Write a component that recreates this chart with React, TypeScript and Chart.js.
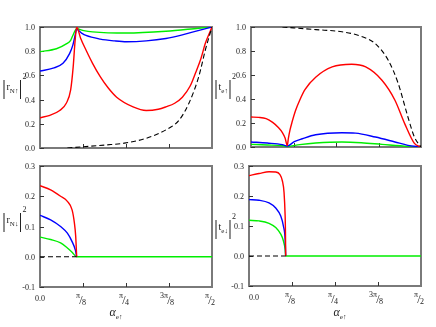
import React, { useEffect, useRef } from "react";
import { Chart, registerables } from "chart.js";
Chart.register(...registerables);

const W = 436;
const H = 327;
const HALF_PI = Math.PI / 2;

// ---- tick labels ----
const Y_TICKS_TOP = [0, 0.2, 0.4, 0.6, 0.8, 1.0];
const Y_LABELS_TOP = ["0.0", "0.2", "0.4", "0.6", "0.8", "1.0"];
const Y_TICKS_BOT = [-0.1, 0, 0.1, 0.2, 0.3];
const Y_LABELS_BOT = ["-0.1", "0.0", "0.1", "0.2", "0.3"];
const X_TICKS = [Math.PI / 8, Math.PI / 4, (3 * Math.PI) / 8, HALF_PI];
const X_NUM = ["π", "π", "3π", "π"];
const X_DEN = ["8", "4", "8", "2"];

// ---- top-left |r_N↑|^2 ----
const TL_RED_A = [0, 0.09, 0.18, 0.24, 0.28, 0.303, 0.32, 0.335, 0.37, 0.42, 0.48, 0.55, 0.62, 0.7, 0.85, 0.97, 1.08, 1.15, 1.23, 1.3, 1.37, 1.42, 1.47, 1.51, HALF_PI];
const TL_RED = [0.25, 0.27, 0.31, 0.37, 0.48, 0.67, 0.88, 1.0, 0.91, 0.81, 0.7, 0.59, 0.5, 0.42, 0.34, 0.31, 0.32, 0.34, 0.37, 0.42, 0.51, 0.62, 0.74, 0.865, 1.0];
const TL_BLUE_A = [0, 0.12, 0.21, 0.27, 0.3, 0.318, 0.335, 0.38, 0.42, 0.55, 0.68, 0.79, 0.97, 1.15, 1.3, 1.4, HALF_PI];
const TL_BLUE = [0.636, 0.66, 0.7, 0.78, 0.85, 0.92, 0.98, 0.95, 0.93, 0.9, 0.885, 0.878, 0.885, 0.905, 0.935, 0.96, 1.0];
const TL_GREEN_A = [0, 0.15, 0.24, 0.28, 0.3, 0.335, 0.4, 0.48, 0.79, 1.15, 1.45, HALF_PI];
const TL_GREEN = [0.796, 0.82, 0.86, 0.89, 0.93, 0.985, 0.97, 0.96, 0.95, 0.965, 0.99, 1.0];
const TL_BLACK_A = [0.25, 0.39, 0.6, 0.77, 0.97, 1.15, 1.27, 1.36, 1.45, 1.51, HALF_PI];
const TL_BLACK = [0.0, 0.01, 0.025, 0.04, 0.08, 0.15, 0.23, 0.37, 0.59, 0.81, 1.0];

// ---- top-right |t_e↑|^2 ----
const TR_RED_A = [0, 0.07, 0.14, 0.2, 0.25, 0.29, 0.315, 0.335, 0.345, 0.36, 0.38, 0.41, 0.45, 0.5, 0.6, 0.75, 0.93, 1.06, 1.21, 1.33, 1.42, 1.51, HALF_PI];
const TR_RED = [0.25, 0.247, 0.236, 0.205, 0.165, 0.12, 0.075, 0.012, 0.07, 0.14, 0.21, 0.3, 0.39, 0.48, 0.583, 0.667, 0.689, 0.667, 0.556, 0.39, 0.195, 0.03, 0];
const TR_BLUE_A = [0, 0.15, 0.29, 0.335, 0.4, 0.474, 0.597, 0.84, 0.965, 1.15, 1.33, 1.45, HALF_PI];
const TR_BLUE = [0.042, 0.033, 0.02, 0.008, 0.045, 0.069, 0.102, 0.119, 0.116, 0.083, 0.042, 0.014, 0];
const TR_GREEN_A = [0, 0.15, 0.29, 0.335, 0.45, 0.597, 0.84, 1.02, 1.21, 1.45, HALF_PI];
const TR_GREEN = [0.022, 0.017, 0.011, 0.005, 0.02, 0.033, 0.042, 0.036, 0.022, 0.005, 0];
const TR_BLACK_A = [0.29, 0.6, 0.84, 1.02, 1.15, 1.27, 1.36, 1.45, 1.51, HALF_PI];
const TR_BLACK = [1.0, 0.978, 0.96, 0.922, 0.86, 0.72, 0.53, 0.25, 0.083, 0];

// ---- bottom-left |r_N↓|^2 ----
const BL_RED_A = [0, 0.097, 0.188, 0.25, 0.293, 0.314, 0.326, 0.335];
const BL_RED = [0.235, 0.221, 0.2, 0.183, 0.155, 0.112, 0.068, 0];
const BL_BLUE_A = [0, 0.097, 0.188, 0.25, 0.293, 0.323, 0.335];
const BL_BLUE = [0.137, 0.122, 0.1, 0.078, 0.05, 0.022, 0];
const BL_GREEN_A = [0, 0.097, 0.188, 0.25, 0.293, 0.335, HALF_PI];
const BL_GREEN = [0.065, 0.057, 0.046, 0.029, 0.015, 0, 0];
const BL_BLACK_A = [0, 0.335];
const BL_BLACK = [0, 0];

// ---- bottom-right |t_e↓|^2 ----
const BR_RED_A = [0, 0.092, 0.183, 0.244, 0.281, 0.305, 0.32, 0.33, 0.333, 0.335];
const BR_RED = [0.268, 0.275, 0.281, 0.28, 0.272, 0.25, 0.212, 0.134, 0.08, 0];
const BR_BLUE_A = [0, 0.092, 0.183, 0.244, 0.29, 0.314, 0.33, 0.335];
const BR_BLUE = [0.188, 0.186, 0.177, 0.16, 0.133, 0.1, 0.055, 0];
const BR_GREEN_A = [0, 0.092, 0.183, 0.244, 0.29, 0.314, 0.33, 0.335, HALF_PI];
const BR_GREEN = [0.119, 0.117, 0.109, 0.095, 0.073, 0.051, 0.022, 0, 0];
const BR_BLACK_A = [0, 0.335];
const BR_BLACK = [0, 0];

const RED = "#ff0000";
const BLUE = "#0000ff";
const GREEN = "#00ee00";
const BLACK = "#000000";
const SERIF = "'Liberation Serif', 'DejaVu Serif', serif";

type Series = { a: number[]; v: number[]; color: string; dash?: number[] };
type Panel = {
  rect: [number, number, number, number];
  yMin: number;
  yMax: number;
  yTicks: number[];
  yLabels: string[];
  titleMain: string;
  titleSub: string;
  titleX: number;
  titleY: number;
  showX: boolean;
  xTitleX: number;
  series: Series[];
};

const PANELS: Panel[] = [
  {
    rect: [40, 27, 212, 148], yMin: 0, yMax: 1, yTicks: Y_TICKS_TOP, yLabels: Y_LABELS_TOP,
    titleMain: "r", titleSub: "N↑", titleX: 2, titleY: 92, showX: false, xTitleX: 0,
    series: [
      { a: TL_BLACK_A, v: TL_BLACK, color: BLACK, dash: [5, 3] },
      { a: TL_RED_A, v: TL_RED, color: RED },
      { a: TL_BLUE_A, v: TL_BLUE, color: BLUE },
      { a: TL_GREEN_A, v: TL_GREEN, color: GREEN },
    ],
  },
  {
    rect: [251, 27, 421, 147], yMin: 0, yMax: 1, yTicks: Y_TICKS_TOP, yLabels: Y_LABELS_TOP,
    titleMain: "t", titleSub: "e↑", titleX: 214, titleY: 92, showX: false, xTitleX: 0,
    series: [
      { a: TR_BLACK_A, v: TR_BLACK, color: BLACK, dash: [5, 3] },
      { a: TR_RED_A, v: TR_RED, color: RED },
      { a: TR_BLUE_A, v: TR_BLUE, color: BLUE },
      { a: TR_GREEN_A, v: TR_GREEN, color: GREEN },
    ],
  },
  {
    rect: [40, 166, 212, 287], yMin: -0.1, yMax: 0.3, yTicks: Y_TICKS_BOT, yLabels: Y_LABELS_BOT,
    titleMain: "r", titleSub: "N↓", titleX: 2, titleY: 225, showX: true, xTitleX: 116,
    series: [
      { a: BL_BLACK_A, v: BL_BLACK, color: BLACK, dash: [5, 3] },
      { a: BL_RED_A, v: BL_RED, color: RED },
      { a: BL_BLUE_A, v: BL_BLUE, color: BLUE },
      { a: BL_GREEN_A, v: BL_GREEN, color: GREEN },
    ],
  },
  {
    rect: [249, 166, 421, 286], yMin: -0.1, yMax: 0.3, yTicks: Y_TICKS_BOT, yLabels: Y_LABELS_BOT,
    titleMain: "t", titleSub: "e↓", titleX: 214, titleY: 232, showX: true, xTitleX: 340,
    series: [
      { a: BR_BLACK_A, v: BR_BLACK, color: BLACK, dash: [5, 3] },
      { a: BR_RED_A, v: BR_RED, color: RED },
      { a: BR_BLUE_A, v: BR_BLUE, color: BLUE },
      { a: BR_GREEN_A, v: BR_GREEN, color: GREEN },
    ],
  },
];

function decorPlugin(p: Panel) {
  return {
    id: "decor",
    beforeDatasetsDraw(chart: any) {
      const ctx = chart.ctx as CanvasRenderingContext2D;
      const a = chart.chartArea;
      const xs = chart.scales.x;
      const ys = chart.scales.y;
      ctx.save();
      // frame
      ctx.strokeStyle = "#7a7a7a";
      ctx.lineWidth = 2;
      ctx.strokeRect(a.left, a.top, a.right - a.left, a.bottom - a.top);
      // y ticks + labels
      ctx.strokeStyle = "#333";
      ctx.lineWidth = 1;
      ctx.fillStyle = "#222";
      ctx.font = `8px ${SERIF}`;
      ctx.textAlign = "right";
      ctx.textBaseline = "middle";
      p.yTicks.forEach((v, i) => {
        const py = Math.round(ys.getPixelForValue(v)) + 0.5;
        ctx.beginPath();
        ctx.moveTo(a.left, py);
        ctx.lineTo(a.left + 4, py);
        ctx.stroke();
        ctx.fillText(p.yLabels[i], a.left - 5, py);
      });
      // x ticks
      X_TICKS.slice(0, 3).forEach((v) => {
        const px = Math.round(xs.getPixelForValue(v)) + 0.5;
        ctx.beginPath();
        ctx.moveTo(px, a.bottom);
        ctx.lineTo(px, a.bottom - 4);
        ctx.stroke();
      });
      // x labels
      if (p.showX) {
        ctx.textAlign = "left";
        ctx.textBaseline = "alphabetic";
        ctx.font = `8px ${SERIF}`;
        const zw = ctx.measureText("0.0").width;
        ctx.fillText("0.0", a.left + (p.rect[0] > 200 ? 5 : 0) - zw / 2, a.bottom + 14);
        X_TICKS.forEach((v, i) => {
          const cx = xs.getPixelForValue(v) - 2;
          ctx.font = `8px ${SERIF}`;
          const nw = ctx.measureText(X_NUM[i]).width;
          const dw = ctx.measureText(X_DEN[i]).width;
          ctx.font = `12px ${SERIF}`;
          const sw = ctx.measureText("/").width;
          const total = nw + sw * 0.6 + dw;
          let x = cx - total / 2;
          ctx.font = `8px ${SERIF}`;
          ctx.fillText(X_NUM[i], x, a.bottom + 11);
          x += nw - sw * 0.2;
          ctx.font = `12px ${SERIF}`;
          ctx.fillText("/", x, a.bottom + 17);
          x += sw * 0.8;
          ctx.font = `8px ${SERIF}`;
          ctx.fillText(X_DEN[i], x, a.bottom + 18);
        });
        // x title
        ctx.font = `italic 12px ${SERIF}`;
        const aw = ctx.measureText("α").width;
        ctx.font = `7px ${SERIF}`;
        const ew = ctx.measureText("e↑").width;
        const tx = p.xTitleX - (aw + ew) / 2;
        ctx.font = `italic 12px ${SERIF}`;
        ctx.fillText("α", tx, 316);
        ctx.font = `7px ${SERIF}`;
        ctx.fillText("e↑", tx + aw, 319);
      }
      // y title |x_sub|^2
      ctx.textAlign = "left";
      ctx.textBaseline = "alphabetic";
      let x = p.titleX;
      const by = p.titleY;
      const part = (t: string, font: string, dy: number) => {
        ctx.font = font;
        ctx.fillText(t, x, by + dy);
        x += ctx.measureText(t).width;
      };
      part("|", `20px ${SERIF}`, 2);
      x += 0.5;
      part(p.titleMain, `10px ${SERIF}`, -2);
      part(p.titleSub, `7px ${SERIF}`, 1);
      part("|", `20px ${SERIF}`, 2);
      part("2", `8px ${SERIF}`, -13);
      ctx.restore();
    },
  };
}

function PanelChart({ p }: { p: Panel }) {
  const ref = useRef<HTMLCanvasElement | null>(null);
  useEffect(() => {
    if (!ref.current) return;
    const [L, T, R, B] = p.rect;
    const chart = new Chart(ref.current, {
      type: "line",
      data: {
        datasets: p.series.map((s) => ({
          data: s.a.map((a, i) => ({ x: a, y: s.v[i] })),
          borderColor: s.color,
          borderWidth: s.dash ? 1.1 : 1.4,
          borderDash: s.dash || [],
          pointRadius: 0,
          fill: false,
          cubicInterpolationMode: "monotone" as const,
        })),
      },
      options: {
        responsive: false,
        animation: false,
        devicePixelRatio: 1,
        layout: { padding: { left: L, top: T, right: W - R, bottom: H - B } },
        plugins: { legend: { display: false }, tooltip: { enabled: false } },
        scales: {
          x: { type: "linear", min: 0, max: HALF_PI, display: false },
          y: { type: "linear", min: p.yMin, max: p.yMax, display: false },
        },
      },
      plugins: [decorPlugin(p)],
    });
    return () => chart.destroy();
  }, [p]);
  return (
    <canvas
      ref={ref}
      width={W}
      height={H}
      style={{ position: "absolute", left: 0, top: 0, width: W, height: H }}
    />
  );
}

export default function App() {
  return (
    <div style={{ position: "fixed", left: 0, top: 0, width: W, height: H, background: "#fff" }}>
      {PANELS.map((p, i) => (
        <PanelChart key={i} p={p} />
      ))}
    </div>
  );
}
